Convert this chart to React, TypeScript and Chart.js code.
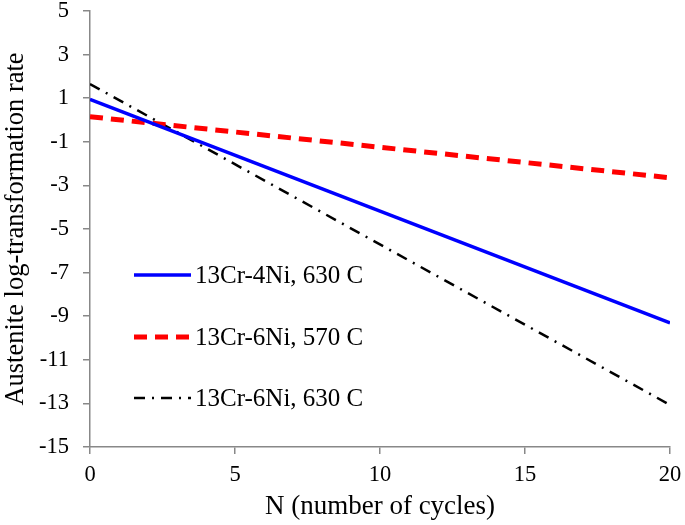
import React, { useEffect, useRef } from "react";
import { Chart, registerables } from "chart.js";

Chart.register(...registerables);

const xValues = [0, 20];
const series1 = [0.95, -9.31];
const series2 = [0.15, -2.65];
const series3 = [1.65, -13.07];
const labels = ["13Cr-4Ni, 630 C", "13Cr-6Ni, 570 C", "13Cr-6Ni, 630 C"];
const xTitle = "N (number of cycles)";
const yTitle = "Austenite log-transformation rate";

const FONT = "'Liberation Serif', 'Times New Roman', serif";

const legendPlugin = {
  id: "insideLegend",
  afterDatasetsDraw(chart: any) {
    const ctx = chart.ctx;
    const rows = [275, 337, 398];
    chart.data.datasets.forEach((ds: any, i: number) => {
      const y = rows[i];
      ctx.save();
      ctx.strokeStyle = ds.borderColor;
      ctx.lineWidth = ds.borderWidth;
      ctx.setLineDash(ds.borderDash || []);
      ctx.lineCap = "butt";
      ctx.beginPath();
      ctx.moveTo(134, y);
      ctx.lineTo(191, y);
      ctx.stroke();
      ctx.setLineDash([]);
      ctx.fillStyle = "#000";
      ctx.font = `25px ${FONT}`;
      ctx.textBaseline = "middle";
      ctx.textAlign = "left";
      ctx.fillText(ds.label, 195, y + 1);
      ctx.restore();
    });
  },
};

export default function App() {
  const ref = useRef<HTMLCanvasElement | null>(null);
  useEffect(() => {
    document.body.style.margin = "0";
    const mk = (ys: number[]) => xValues.map((x, i) => ({ x, y: ys[i] }));
    const chart = new Chart(ref.current as HTMLCanvasElement, {
      type: "scatter",
      data: {
        datasets: [
          { label: labels[0], data: mk(series1), showLine: true, borderColor: "#0000ff", backgroundColor: "#0000ff", borderWidth: 3.5, pointRadius: 0 },
          { label: labels[1], data: mk(series2), showLine: true, borderColor: "#ff0000", backgroundColor: "#ff0000", borderWidth: 5, borderDash: [13, 8], pointRadius: 0 },
          { label: labels[2], data: mk(series3), showLine: true, borderColor: "#000000", backgroundColor: "#000000", borderWidth: 2.5, borderDash: [11, 7, 2, 7], pointRadius: 0 },
        ],
      },
      options: {
        animation: false,
        responsive: false,
        layout: { padding: { top: 11, right: 15, left: 0, bottom: 0 } },
        plugins: { legend: { display: false }, tooltip: { enabled: false } },
        scales: {
          x: {
            type: "linear",
            min: 0,
            max: 20,
            ticks: { stepSize: 5, color: "#000", font: { family: FONT, size: 22.5 }, padding: 8 },
            grid: { drawOnChartArea: false, tickLength: 7, color: "#888", lineWidth: 1.5 },
            border: { color: "#888", width: 1.5 },
            title: { display: true, text: xTitle, color: "#000", font: { family: FONT, size: 27 }, padding: { top: 0, bottom: 2 } },
            afterFit: (s: any) => { s.height = 78; s.paddingLeft = 0; s.paddingRight = 0; },
          },
          y: {
            type: "linear",
            min: -15,
            max: 5,
            ticks: { stepSize: 2, color: "#000", font: { family: FONT, size: 22.5 }, padding: 14 },
            grid: { drawOnChartArea: false, tickLength: 7, color: "#888", lineWidth: 1.5 },
            border: { color: "#888", width: 1.5 },
            title: { display: true, text: yTitle, color: "#000", font: { family: FONT, size: 26.5 }, padding: { top: 0, bottom: 0 } },
            afterFit: (s: any) => { s.width = 90; s.paddingTop = 0; s.paddingBottom = 0; },
          },
        },
      },
      plugins: [legendPlugin],
    });
    return () => chart.destroy();
  }, []);
  return (
    <div style={{ width: 685, height: 525, background: "#fff" }}>
      <canvas ref={ref} width={685} height={525} />
    </div>
  );
}
